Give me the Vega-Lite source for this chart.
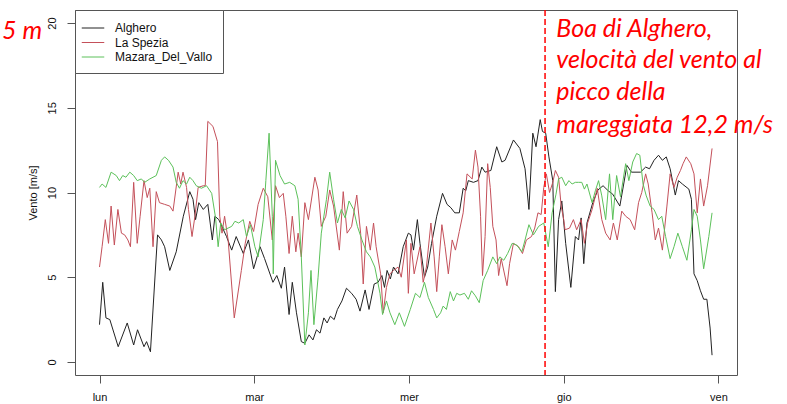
{
  "$schema": "https://vega.github.io/schema/vega-lite/v6.json",
  "width": 662,
  "height": 365,
  "autosize": {"type": "none"},
  "padding": {"left": 75, "top": 10, "right": 50, "bottom": 29},
  "background": "white",
  "config": {
    "view": {"stroke": "#555", "strokeWidth": 1},
    "font": "Liberation Sans",
    "axis": {"labelFont": "Liberation Sans", "titleFont": "Liberation Sans", "labelColor": "#111111", "titleColor": "#111111", "tickColor": "#555", "domain": false, "grid": false},
    "legend": {
      "orient": "top-left", "offset": 0, "padding": 10, "strokeColor": "#555", "fillColor": "white",
      "labelFont": "Liberation Sans", "labelFontSize": 12, "labelColor": "#111111",
      "symbolType": "M-1.5,0H1.5", "symbolSize": 225, "symbolStrokeWidth": 1,
      "rowPadding": 0.5, "labelOffset": 14, "title": null, "cornerRadius": 0
    }
  },
  "datasets": {
    "series": [
      {"station": "Alghero", "hour": 0, "wind": 2.2},
      {"station": "Alghero", "hour": 0.5, "wind": 4.7},
      {"station": "Alghero", "hour": 1.0, "wind": 2.6},
      {"station": "Alghero", "hour": 1.6, "wind": 2.5},
      {"station": "Alghero", "hour": 2.9, "wind": 0.9},
      {"station": "Alghero", "hour": 4.3, "wind": 2.3},
      {"station": "Alghero", "hour": 5.3, "wind": 1.0},
      {"station": "Alghero", "hour": 5.9, "wind": 1.9},
      {"station": "Alghero", "hour": 6.9, "wind": 0.9},
      {"station": "Alghero", "hour": 7.3, "wind": 1.2},
      {"station": "Alghero", "hour": 7.9, "wind": 0.6},
      {"station": "Alghero", "hour": 9.0, "wind": 7.5},
      {"station": "Alghero", "hour": 9.6, "wind": 7.2},
      {"station": "Alghero", "hour": 10.1, "wind": 6.8},
      {"station": "Alghero", "hour": 10.9, "wind": 5.4},
      {"station": "Alghero", "hour": 11.9, "wind": 6.5},
      {"station": "Alghero", "hour": 13.0, "wind": 8.6},
      {"station": "Alghero", "hour": 14.0, "wind": 10.05},
      {"station": "Alghero", "hour": 14.5, "wind": 9.6},
      {"station": "Alghero", "hour": 14.9, "wind": 8.4},
      {"station": "Alghero", "hour": 15.4, "wind": 9.4},
      {"station": "Alghero", "hour": 16.1, "wind": 9.0},
      {"station": "Alghero", "hour": 16.8, "wind": 9.3},
      {"station": "Alghero", "hour": 17.5, "wind": 7.2},
      {"station": "Alghero", "hour": 17.9, "wind": 8.6},
      {"station": "Alghero", "hour": 18.5, "wind": 8.4},
      {"station": "Alghero", "hour": 19.7, "wind": 7.4},
      {"station": "Alghero", "hour": 20.5, "wind": 6.6},
      {"station": "Alghero", "hour": 21.2, "wind": 7.4},
      {"station": "Alghero", "hour": 22.3, "wind": 6.4},
      {"station": "Alghero", "hour": 23.1, "wind": 7.2},
      {"station": "Alghero", "hour": 23.9, "wind": 5.5},
      {"station": "Alghero", "hour": 24.9, "wind": 6.8},
      {"station": "Alghero", "hour": 25.6, "wind": 6.1},
      {"station": "Alghero", "hour": 26.9, "wind": 4.7},
      {"station": "Alghero", "hour": 27.5, "wind": 5.1},
      {"station": "Alghero", "hour": 28.2, "wind": 4.35},
      {"station": "Alghero", "hour": 28.7, "wind": 5.6},
      {"station": "Alghero", "hour": 29.4, "wind": 2.8},
      {"station": "Alghero", "hour": 29.9, "wind": 4.7},
      {"station": "Alghero", "hour": 30.55, "wind": 2.9},
      {"station": "Alghero", "hour": 31.3, "wind": 1.2},
      {"station": "Alghero", "hour": 31.85, "wind": 1.1},
      {"station": "Alghero", "hour": 32.5, "wind": 1.6},
      {"station": "Alghero", "hour": 33.1, "wind": 1.3},
      {"station": "Alghero", "hour": 33.65, "wind": 1.9},
      {"station": "Alghero", "hour": 34.2, "wind": 1.7},
      {"station": "Alghero", "hour": 34.8, "wind": 2.6},
      {"station": "Alghero", "hour": 35.3, "wind": 2.3},
      {"station": "Alghero", "hour": 35.8, "wind": 2.7},
      {"station": "Alghero", "hour": 36.4, "wind": 2.5},
      {"station": "Alghero", "hour": 36.9, "wind": 3.1},
      {"station": "Alghero", "hour": 37.6, "wind": 3.6},
      {"station": "Alghero", "hour": 38.3, "wind": 4.35},
      {"station": "Alghero", "hour": 39.1, "wind": 4.05},
      {"station": "Alghero", "hour": 39.8, "wind": 3.7},
      {"station": "Alghero", "hour": 40.4, "wind": 3.0},
      {"station": "Alghero", "hour": 41.2, "wind": 4.25},
      {"station": "Alghero", "hour": 41.8, "wind": 3.1},
      {"station": "Alghero", "hour": 42.6, "wind": 4.6},
      {"station": "Alghero", "hour": 43.2, "wind": 4.7},
      {"station": "Alghero", "hour": 43.8, "wind": 5.1},
      {"station": "Alghero", "hour": 44.2, "wind": 4.4},
      {"station": "Alghero", "hour": 44.6, "wind": 5.4},
      {"station": "Alghero", "hour": 45.1, "wind": 4.9},
      {"station": "Alghero", "hour": 45.6, "wind": 5.6},
      {"station": "Alghero", "hour": 46.3, "wind": 5.2},
      {"station": "Alghero", "hour": 47.1, "wind": 6.8},
      {"station": "Alghero", "hour": 47.9, "wind": 7.6},
      {"station": "Alghero", "hour": 48.3, "wind": 7.5},
      {"station": "Alghero", "hour": 48.7, "wind": 6.6},
      {"station": "Alghero", "hour": 49.3, "wind": 8.4},
      {"station": "Alghero", "hour": 49.7, "wind": 7.0},
      {"station": "Alghero", "hour": 50.4, "wind": 5.0},
      {"station": "Alghero", "hour": 50.9, "wind": 5.6},
      {"station": "Alghero", "hour": 51.5, "wind": 7.0},
      {"station": "Alghero", "hour": 52.3, "wind": 8.6},
      {"station": "Alghero", "hour": 53.2, "wind": 9.95},
      {"station": "Alghero", "hour": 53.9, "wind": 9.3},
      {"station": "Alghero", "hour": 54.5, "wind": 9.1},
      {"station": "Alghero", "hour": 55.1, "wind": 8.8},
      {"station": "Alghero", "hour": 55.8, "wind": 8.8},
      {"station": "Alghero", "hour": 56.4, "wind": 10.25},
      {"station": "Alghero", "hour": 56.8, "wind": 10.1},
      {"station": "Alghero", "hour": 57.2, "wind": 10.7},
      {"station": "Alghero", "hour": 58.0, "wind": 10.6},
      {"station": "Alghero", "hour": 58.7, "wind": 10.7},
      {"station": "Alghero", "hour": 59.3, "wind": 11.5},
      {"station": "Alghero", "hour": 59.8, "wind": 11.2},
      {"station": "Alghero", "hour": 60.7, "wind": 11.3},
      {"station": "Alghero", "hour": 61.6, "wind": 12.7},
      {"station": "Alghero", "hour": 62.4, "wind": 11.8},
      {"station": "Alghero", "hour": 62.9, "wind": 11.9},
      {"station": "Alghero", "hour": 64.2, "wind": 13.1},
      {"station": "Alghero", "hour": 65.2, "wind": 12.6},
      {"station": "Alghero", "hour": 66.0, "wind": 11.4},
      {"station": "Alghero", "hour": 66.6, "wind": 9.0},
      {"station": "Alghero", "hour": 67.2, "wind": 13.5},
      {"station": "Alghero", "hour": 67.7, "wind": 12.7},
      {"station": "Alghero", "hour": 68.35, "wind": 14.3},
      {"station": "Alghero", "hour": 68.7, "wind": 13.6},
      {"station": "Alghero", "hour": 69.2, "wind": 13.5},
      {"station": "Alghero", "hour": 69.7, "wind": 12.1},
      {"station": "Alghero", "hour": 70.3, "wind": 10.7},
      {"station": "Alghero", "hour": 70.7, "wind": 4.15},
      {"station": "Alghero", "hour": 71.2, "wind": 8.4},
      {"station": "Alghero", "hour": 71.7, "wind": 9.5},
      {"station": "Alghero", "hour": 72.3, "wind": 7.0},
      {"station": "Alghero", "hour": 73.1, "wind": 4.4},
      {"station": "Alghero", "hour": 73.8, "wind": 7.4},
      {"station": "Alghero", "hour": 74.3, "wind": 7.2},
      {"station": "Alghero", "hour": 74.7, "wind": 8.5},
      {"station": "Alghero", "hour": 75.1, "wind": 5.8},
      {"station": "Alghero", "hour": 75.6, "wind": 8.2},
      {"station": "Alghero", "hour": 76.5, "wind": 9.4},
      {"station": "Alghero", "hour": 77.3, "wind": 10.15},
      {"station": "Alghero", "hour": 78.1, "wind": 10.4},
      {"station": "Alghero", "hour": 78.9, "wind": 10.1},
      {"station": "Alghero", "hour": 79.6, "wind": 9.9},
      {"station": "Alghero", "hour": 80.7, "wind": 9.2},
      {"station": "Alghero", "hour": 81.3, "wind": 10.5},
      {"station": "Alghero", "hour": 81.8, "wind": 11.6},
      {"station": "Alghero", "hour": 82.5, "wind": 11.2},
      {"station": "Alghero", "hour": 83.9, "wind": 11.2},
      {"station": "Alghero", "hour": 84.7, "wind": 11.5},
      {"station": "Alghero", "hour": 85.3, "wind": 11.4},
      {"station": "Alghero", "hour": 86.0, "wind": 11.9},
      {"station": "Alghero", "hour": 86.7, "wind": 12.2},
      {"station": "Alghero", "hour": 87.3, "wind": 11.9},
      {"station": "Alghero", "hour": 87.9, "wind": 12.1},
      {"station": "Alghero", "hour": 88.5, "wind": 11.4},
      {"station": "Alghero", "hour": 89.3, "wind": 9.85},
      {"station": "Alghero", "hour": 89.8, "wind": 10.7},
      {"station": "Alghero", "hour": 90.4, "wind": 10.5},
      {"station": "Alghero", "hour": 91.4, "wind": 10.2},
      {"station": "Alghero", "hour": 91.8, "wind": 9.6},
      {"station": "Alghero", "hour": 92.2, "wind": 5.2},
      {"station": "Alghero", "hour": 92.7, "wind": 4.8},
      {"station": "Alghero", "hour": 93.2, "wind": 4.2},
      {"station": "Alghero", "hour": 93.7, "wind": 3.7},
      {"station": "Alghero", "hour": 94.2, "wind": 3.7},
      {"station": "Alghero", "hour": 94.7, "wind": 2.0},
      {"station": "Alghero", "hour": 95.0, "wind": 0.4},

      {"station": "La Spezia", "hour": 0, "wind": 5.6},
      {"station": "La Spezia", "hour": 0.4, "wind": 6.8},
      {"station": "La Spezia", "hour": 0.9, "wind": 8.4},
      {"station": "La Spezia", "hour": 1.4, "wind": 7.0},
      {"station": "La Spezia", "hour": 1.8, "wind": 9.2},
      {"station": "La Spezia", "hour": 2.3, "wind": 6.9},
      {"station": "La Spezia", "hour": 2.85, "wind": 9.0},
      {"station": "La Spezia", "hour": 3.4, "wind": 7.6},
      {"station": "La Spezia", "hour": 3.9, "wind": 7.5},
      {"station": "La Spezia", "hour": 4.4, "wind": 7.2},
      {"station": "La Spezia", "hour": 4.8, "wind": 6.8},
      {"station": "La Spezia", "hour": 5.3, "wind": 10.6},
      {"station": "La Spezia", "hour": 5.85, "wind": 7.0},
      {"station": "La Spezia", "hour": 6.3, "wind": 8.6},
      {"station": "La Spezia", "hour": 6.9, "wind": 10.7},
      {"station": "La Spezia", "hour": 7.4, "wind": 9.7},
      {"station": "La Spezia", "hour": 7.8, "wind": 10.25},
      {"station": "La Spezia", "hour": 8.3, "wind": 6.8},
      {"station": "La Spezia", "hour": 8.8, "wind": 10.05},
      {"station": "La Spezia", "hour": 9.3, "wind": 9.4},
      {"station": "La Spezia", "hour": 10.1, "wind": 9.3},
      {"station": "La Spezia", "hour": 10.9, "wind": 9.2},
      {"station": "La Spezia", "hour": 11.4, "wind": 8.9},
      {"station": "La Spezia", "hour": 12.2, "wind": 11.2},
      {"station": "La Spezia", "hour": 12.6, "wind": 10.5},
      {"station": "La Spezia", "hour": 12.95, "wind": 11.2},
      {"station": "La Spezia", "hour": 13.5, "wind": 10.3},
      {"station": "La Spezia", "hour": 13.8, "wind": 9.0},
      {"station": "La Spezia", "hour": 14.35, "wind": 7.4},
      {"station": "La Spezia", "hour": 14.8, "wind": 8.6},
      {"station": "La Spezia", "hour": 15.3, "wind": 10.3},
      {"station": "La Spezia", "hour": 16.1, "wind": 10.4},
      {"station": "La Spezia", "hour": 16.4, "wind": 10.4},
      {"station": "La Spezia", "hour": 16.8, "wind": 14.2},
      {"station": "La Spezia", "hour": 17.6, "wind": 13.9},
      {"station": "La Spezia", "hour": 18.3, "wind": 13.0},
      {"station": "La Spezia", "hour": 18.65, "wind": 8.6},
      {"station": "La Spezia", "hour": 19.0, "wind": 7.6},
      {"station": "La Spezia", "hour": 19.4, "wind": 8.6},
      {"station": "La Spezia", "hour": 19.95, "wind": 7.2},
      {"station": "La Spezia", "hour": 20.9, "wind": 2.6},
      {"station": "La Spezia", "hour": 22.0, "wind": 5.4},
      {"station": "La Spezia", "hour": 22.6, "wind": 7.0},
      {"station": "La Spezia", "hour": 23.3, "wind": 8.3},
      {"station": "La Spezia", "hour": 23.9, "wind": 7.7},
      {"station": "La Spezia", "hour": 24.6, "wind": 9.3},
      {"station": "La Spezia", "hour": 25.4, "wind": 10.25},
      {"station": "La Spezia", "hour": 26.1, "wind": 9.75},
      {"station": "La Spezia", "hour": 26.8, "wind": 7.2},
      {"station": "La Spezia", "hour": 27.3, "wind": 10.4},
      {"station": "La Spezia", "hour": 27.9, "wind": 9.7},
      {"station": "La Spezia", "hour": 28.5, "wind": 9.95},
      {"station": "La Spezia", "hour": 28.9, "wind": 8.6},
      {"station": "La Spezia", "hour": 29.4, "wind": 6.4},
      {"station": "La Spezia", "hour": 29.9, "wind": 8.6},
      {"station": "La Spezia", "hour": 30.45, "wind": 6.5},
      {"station": "La Spezia", "hour": 30.8, "wind": 7.6},
      {"station": "La Spezia", "hour": 31.3, "wind": 6.2},
      {"station": "La Spezia", "hour": 31.85, "wind": 9.4},
      {"station": "La Spezia", "hour": 32.4, "wind": 8.4},
      {"station": "La Spezia", "hour": 33.4, "wind": 10.9},
      {"station": "La Spezia", "hour": 33.9, "wind": 10.15},
      {"station": "La Spezia", "hour": 34.4, "wind": 8.0},
      {"station": "La Spezia", "hour": 35.1, "wind": 8.6},
      {"station": "La Spezia", "hour": 35.7, "wind": 10.15},
      {"station": "La Spezia", "hour": 36.3, "wind": 9.2},
      {"station": "La Spezia", "hour": 37.2, "wind": 6.6},
      {"station": "La Spezia", "hour": 37.8, "wind": 10.05},
      {"station": "La Spezia", "hour": 38.4, "wind": 7.6},
      {"station": "La Spezia", "hour": 39.1, "wind": 8.0},
      {"station": "La Spezia", "hour": 39.9, "wind": 9.85},
      {"station": "La Spezia", "hour": 40.5, "wind": 7.6},
      {"station": "La Spezia", "hour": 40.9, "wind": 4.6},
      {"station": "La Spezia", "hour": 41.4, "wind": 8.0},
      {"station": "La Spezia", "hour": 42.0, "wind": 6.6},
      {"station": "La Spezia", "hour": 42.5, "wind": 8.2},
      {"station": "La Spezia", "hour": 42.9, "wind": 6.8},
      {"station": "La Spezia", "hour": 43.6, "wind": 5.2},
      {"station": "La Spezia", "hour": 44.0, "wind": 2.9},
      {"station": "La Spezia", "hour": 44.5, "wind": 4.4},
      {"station": "La Spezia", "hour": 45.05, "wind": 5.2},
      {"station": "La Spezia", "hour": 45.6, "wind": 5.4},
      {"station": "La Spezia", "hour": 46.3, "wind": 5.6},
      {"station": "La Spezia", "hour": 46.8, "wind": 5.0},
      {"station": "La Spezia", "hour": 47.6, "wind": 7.2},
      {"station": "La Spezia", "hour": 47.9, "wind": 4.05},
      {"station": "La Spezia", "hour": 48.3, "wind": 7.0},
      {"station": "La Spezia", "hour": 48.8, "wind": 5.2},
      {"station": "La Spezia", "hour": 49.7, "wind": 6.8},
      {"station": "La Spezia", "hour": 50.2, "wind": 4.7},
      {"station": "La Spezia", "hour": 50.7, "wind": 5.6},
      {"station": "La Spezia", "hour": 51.4, "wind": 8.2},
      {"station": "La Spezia", "hour": 51.9, "wind": 6.2},
      {"station": "La Spezia", "hour": 52.3, "wind": 4.15},
      {"station": "La Spezia", "hour": 52.7, "wind": 6.2},
      {"station": "La Spezia", "hour": 53.1, "wind": 8.1},
      {"station": "La Spezia", "hour": 53.6, "wind": 6.8},
      {"station": "La Spezia", "hour": 54.1, "wind": 5.2},
      {"station": "La Spezia", "hour": 54.7, "wind": 7.2},
      {"station": "La Spezia", "hour": 55.2, "wind": 6.6},
      {"station": "La Spezia", "hour": 55.8, "wind": 7.7},
      {"station": "La Spezia", "hour": 56.4, "wind": 8.8},
      {"station": "La Spezia", "hour": 57.0, "wind": 11.1},
      {"station": "La Spezia", "hour": 57.8, "wind": 10.8},
      {"station": "La Spezia", "hour": 58.3, "wind": 12.5},
      {"station": "La Spezia", "hour": 58.7, "wind": 11.5},
      {"station": "La Spezia", "hour": 59.1, "wind": 8.6},
      {"station": "La Spezia", "hour": 59.4, "wind": 5.1},
      {"station": "La Spezia", "hour": 59.8, "wind": 7.4},
      {"station": "La Spezia", "hour": 60.2, "wind": 11.7},
      {"station": "La Spezia", "hour": 60.6, "wind": 10.3},
      {"station": "La Spezia", "hour": 61.0, "wind": 8.0},
      {"station": "La Spezia", "hour": 61.5, "wind": 7.2},
      {"station": "La Spezia", "hour": 61.9, "wind": 5.1},
      {"station": "La Spezia", "hour": 62.3, "wind": 6.1},
      {"station": "La Spezia", "hour": 63.2, "wind": 4.5},
      {"station": "La Spezia", "hour": 63.6, "wind": 5.8},
      {"station": "La Spezia", "hour": 64.2, "wind": 7.0},
      {"station": "La Spezia", "hour": 65.0, "wind": 6.8},
      {"station": "La Spezia", "hour": 65.6, "wind": 6.4},
      {"station": "La Spezia", "hour": 66.2, "wind": 7.2},
      {"station": "La Spezia", "hour": 67.0, "wind": 7.4},
      {"station": "La Spezia", "hour": 67.5, "wind": 7.9},
      {"station": "La Spezia", "hour": 68.0, "wind": 8.8},
      {"station": "La Spezia", "hour": 68.5, "wind": 8.7},
      {"station": "La Spezia", "hour": 68.9, "wind": 10.3},
      {"station": "La Spezia", "hour": 69.3, "wind": 11.1},
      {"station": "La Spezia", "hour": 69.8, "wind": 10.0},
      {"station": "La Spezia", "hour": 70.3, "wind": 10.6},
      {"station": "La Spezia", "hour": 70.7, "wind": 11.3},
      {"station": "La Spezia", "hour": 71.2, "wind": 10.9},
      {"station": "La Spezia", "hour": 71.6, "wind": 9.2},
      {"station": "La Spezia", "hour": 72.0, "wind": 8.4},
      {"station": "La Spezia", "hour": 72.2, "wind": 7.8},
      {"station": "La Spezia", "hour": 72.9, "wind": 7.9},
      {"station": "La Spezia", "hour": 73.5, "wind": 8.4},
      {"station": "La Spezia", "hour": 74.0, "wind": 7.8},
      {"station": "La Spezia", "hour": 74.7, "wind": 8.4},
      {"station": "La Spezia", "hour": 75.2, "wind": 7.0},
      {"station": "La Spezia", "hour": 75.7, "wind": 8.2},
      {"station": "La Spezia", "hour": 76.4, "wind": 9.0},
      {"station": "La Spezia", "hour": 77.2, "wind": 10.25},
      {"station": "La Spezia", "hour": 77.9, "wind": 8.4},
      {"station": "La Spezia", "hour": 78.5, "wind": 7.6},
      {"station": "La Spezia", "hour": 79.2, "wind": 7.2},
      {"station": "La Spezia", "hour": 79.7, "wind": 8.2},
      {"station": "La Spezia", "hour": 80.3, "wind": 7.2},
      {"station": "La Spezia", "hour": 81.0, "wind": 8.9},
      {"station": "La Spezia", "hour": 81.6, "wind": 8.6},
      {"station": "La Spezia", "hour": 82.3, "wind": 8.4},
      {"station": "La Spezia", "hour": 83.0, "wind": 7.8},
      {"station": "La Spezia", "hour": 83.6, "wind": 9.4},
      {"station": "La Spezia", "hour": 84.1, "wind": 10.0},
      {"station": "La Spezia", "hour": 84.7, "wind": 11.1},
      {"station": "La Spezia", "hour": 85.1, "wind": 10.5},
      {"station": "La Spezia", "hour": 85.7, "wind": 8.8},
      {"station": "La Spezia", "hour": 86.2, "wind": 7.2},
      {"station": "La Spezia", "hour": 86.7, "wind": 7.9},
      {"station": "La Spezia", "hour": 87.3, "wind": 6.6},
      {"station": "La Spezia", "hour": 88.0, "wind": 9.2},
      {"station": "La Spezia", "hour": 88.5, "wind": 11.1},
      {"station": "La Spezia", "hour": 89.1, "wind": 10.3},
      {"station": "La Spezia", "hour": 89.6, "wind": 10.9},
      {"station": "La Spezia", "hour": 90.1, "wind": 11.3},
      {"station": "La Spezia", "hour": 90.5, "wind": 11.7},
      {"station": "La Spezia", "hour": 91.0, "wind": 12.1},
      {"station": "La Spezia", "hour": 91.7, "wind": 11.7},
      {"station": "La Spezia", "hour": 92.2, "wind": 11.1},
      {"station": "La Spezia", "hour": 92.7, "wind": 8.8},
      {"station": "La Spezia", "hour": 93.2, "wind": 10.8},
      {"station": "La Spezia", "hour": 93.7, "wind": 9.2},
      {"station": "La Spezia", "hour": 94.3, "wind": 10.4},
      {"station": "La Spezia", "hour": 95.0, "wind": 12.6},

      {"station": "Mazara_Del_Vallo", "hour": 0, "wind": 10.3},
      {"station": "Mazara_Del_Vallo", "hour": 0.4, "wind": 10.5},
      {"station": "Mazara_Del_Vallo", "hour": 1.0, "wind": 10.3},
      {"station": "Mazara_Del_Vallo", "hour": 1.8, "wind": 11.2},
      {"station": "Mazara_Del_Vallo", "hour": 2.6, "wind": 11.0},
      {"station": "Mazara_Del_Vallo", "hour": 3.1, "wind": 10.7},
      {"station": "Mazara_Del_Vallo", "hour": 3.6, "wind": 11.0},
      {"station": "Mazara_Del_Vallo", "hour": 4.1, "wind": 10.9},
      {"station": "Mazara_Del_Vallo", "hour": 4.7, "wind": 11.2},
      {"station": "Mazara_Del_Vallo", "hour": 5.3, "wind": 11.0},
      {"station": "Mazara_Del_Vallo", "hour": 5.85, "wind": 10.7},
      {"station": "Mazara_Del_Vallo", "hour": 6.5, "wind": 10.8},
      {"station": "Mazara_Del_Vallo", "hour": 7.0, "wind": 10.6},
      {"station": "Mazara_Del_Vallo", "hour": 7.8, "wind": 10.8},
      {"station": "Mazara_Del_Vallo", "hour": 8.8, "wind": 11.0},
      {"station": "Mazara_Del_Vallo", "hour": 9.6, "wind": 11.9},
      {"station": "Mazara_Del_Vallo", "hour": 10.1, "wind": 12.1},
      {"station": "Mazara_Del_Vallo", "hour": 10.7, "wind": 11.9},
      {"station": "Mazara_Del_Vallo", "hour": 11.4, "wind": 11.5},
      {"station": "Mazara_Del_Vallo", "hour": 11.9, "wind": 10.6},
      {"station": "Mazara_Del_Vallo", "hour": 12.4, "wind": 10.25},
      {"station": "Mazara_Del_Vallo", "hour": 12.95, "wind": 10.7},
      {"station": "Mazara_Del_Vallo", "hour": 13.5, "wind": 10.5},
      {"station": "Mazara_Del_Vallo", "hour": 14.0, "wind": 10.9},
      {"station": "Mazara_Del_Vallo", "hour": 14.5, "wind": 10.7},
      {"station": "Mazara_Del_Vallo", "hour": 15.0, "wind": 10.4},
      {"station": "Mazara_Del_Vallo", "hour": 15.8, "wind": 10.25},
      {"station": "Mazara_Del_Vallo", "hour": 16.6, "wind": 10.4},
      {"station": "Mazara_Del_Vallo", "hour": 17.4, "wind": 9.95},
      {"station": "Mazara_Del_Vallo", "hour": 18.0, "wind": 8.5},
      {"station": "Mazara_Del_Vallo", "hour": 18.4, "wind": 6.8},
      {"station": "Mazara_Del_Vallo", "hour": 18.8, "wind": 8.2},
      {"station": "Mazara_Del_Vallo", "hour": 19.4, "wind": 7.8},
      {"station": "Mazara_Del_Vallo", "hour": 20.5, "wind": 8.0},
      {"station": "Mazara_Del_Vallo", "hour": 21.0, "wind": 8.3},
      {"station": "Mazara_Del_Vallo", "hour": 21.6, "wind": 8.2},
      {"station": "Mazara_Del_Vallo", "hour": 22.3, "wind": 8.4},
      {"station": "Mazara_Del_Vallo", "hour": 22.8, "wind": 7.4},
      {"station": "Mazara_Del_Vallo", "hour": 23.4, "wind": 8.1},
      {"station": "Mazara_Del_Vallo", "hour": 24.1, "wind": 6.8},
      {"station": "Mazara_Del_Vallo", "hour": 24.6, "wind": 6.2},
      {"station": "Mazara_Del_Vallo", "hour": 25.4, "wind": 8.4},
      {"station": "Mazara_Del_Vallo", "hour": 25.8, "wind": 10.7},
      {"station": "Mazara_Del_Vallo", "hour": 26.3, "wind": 13.5},
      {"station": "Mazara_Del_Vallo", "hour": 26.8, "wind": 8.6},
      {"station": "Mazara_Del_Vallo", "hour": 26.95, "wind": 5.2},
      {"station": "Mazara_Del_Vallo", "hour": 27.3, "wind": 11.9},
      {"station": "Mazara_Del_Vallo", "hour": 28.0, "wind": 11.0},
      {"station": "Mazara_Del_Vallo", "hour": 28.7, "wind": 10.5},
      {"station": "Mazara_Del_Vallo", "hour": 29.5, "wind": 10.6},
      {"station": "Mazara_Del_Vallo", "hour": 30.3, "wind": 10.4},
      {"station": "Mazara_Del_Vallo", "hour": 30.8, "wind": 9.6},
      {"station": "Mazara_Del_Vallo", "hour": 31.3, "wind": 6.2},
      {"station": "Mazara_Del_Vallo", "hour": 31.85, "wind": 1.0},
      {"station": "Mazara_Del_Vallo", "hour": 32.4, "wind": 2.9},
      {"station": "Mazara_Del_Vallo", "hour": 32.8, "wind": 5.4},
      {"station": "Mazara_Del_Vallo", "hour": 33.25, "wind": 2.2},
      {"station": "Mazara_Del_Vallo", "hour": 33.9, "wind": 5.0},
      {"station": "Mazara_Del_Vallo", "hour": 34.4, "wind": 7.6},
      {"station": "Mazara_Del_Vallo", "hour": 35.2, "wind": 9.6},
      {"station": "Mazara_Del_Vallo", "hour": 35.7, "wind": 11.2},
      {"station": "Mazara_Del_Vallo", "hour": 36.3, "wind": 9.6},
      {"station": "Mazara_Del_Vallo", "hour": 36.9, "wind": 8.2},
      {"station": "Mazara_Del_Vallo", "hour": 37.5, "wind": 9.0},
      {"station": "Mazara_Del_Vallo", "hour": 38.1, "wind": 8.5},
      {"station": "Mazara_Del_Vallo", "hour": 38.7, "wind": 9.5},
      {"station": "Mazara_Del_Vallo", "hour": 39.4, "wind": 9.0},
      {"station": "Mazara_Del_Vallo", "hour": 40.0, "wind": 8.0},
      {"station": "Mazara_Del_Vallo", "hour": 40.7, "wind": 7.2},
      {"station": "Mazara_Del_Vallo", "hour": 41.4, "wind": 6.5},
      {"station": "Mazara_Del_Vallo", "hour": 42.0, "wind": 6.2},
      {"station": "Mazara_Del_Vallo", "hour": 42.7, "wind": 5.6},
      {"station": "Mazara_Del_Vallo", "hour": 43.5, "wind": 4.05},
      {"station": "Mazara_Del_Vallo", "hour": 43.9, "wind": 2.8},
      {"station": "Mazara_Del_Vallo", "hour": 44.5, "wind": 3.6},
      {"station": "Mazara_Del_Vallo", "hour": 45.05, "wind": 2.9},
      {"station": "Mazara_Del_Vallo", "hour": 45.8, "wind": 2.2},
      {"station": "Mazara_Del_Vallo", "hour": 46.5, "wind": 2.9},
      {"station": "Mazara_Del_Vallo", "hour": 47.3, "wind": 2.1},
      {"station": "Mazara_Del_Vallo", "hour": 48.2, "wind": 3.1},
      {"station": "Mazara_Del_Vallo", "hour": 49.0, "wind": 4.05},
      {"station": "Mazara_Del_Vallo", "hour": 49.7, "wind": 3.8},
      {"station": "Mazara_Del_Vallo", "hour": 50.4, "wind": 4.7},
      {"station": "Mazara_Del_Vallo", "hour": 51.0, "wind": 3.8},
      {"station": "Mazara_Del_Vallo", "hour": 51.8, "wind": 3.1},
      {"station": "Mazara_Del_Vallo", "hour": 52.3, "wind": 2.6},
      {"station": "Mazara_Del_Vallo", "hour": 52.9, "wind": 2.9},
      {"station": "Mazara_Del_Vallo", "hour": 53.3, "wind": 3.3},
      {"station": "Mazara_Del_Vallo", "hour": 53.8, "wind": 3.1},
      {"station": "Mazara_Del_Vallo", "hour": 54.4, "wind": 4.15},
      {"station": "Mazara_Del_Vallo", "hour": 54.9, "wind": 3.6},
      {"station": "Mazara_Del_Vallo", "hour": 55.4, "wind": 4.05},
      {"station": "Mazara_Del_Vallo", "hour": 55.9, "wind": 3.95},
      {"station": "Mazara_Del_Vallo", "hour": 56.6, "wind": 4.05},
      {"station": "Mazara_Del_Vallo", "hour": 57.2, "wind": 3.7},
      {"station": "Mazara_Del_Vallo", "hour": 57.7, "wind": 4.2},
      {"station": "Mazara_Del_Vallo", "hour": 58.3, "wind": 3.9},
      {"station": "Mazara_Del_Vallo", "hour": 58.9, "wind": 3.5},
      {"station": "Mazara_Del_Vallo", "hour": 59.5, "wind": 4.8},
      {"station": "Mazara_Del_Vallo", "hour": 60.2, "wind": 5.4},
      {"station": "Mazara_Del_Vallo", "hour": 61.0, "wind": 6.2},
      {"station": "Mazara_Del_Vallo", "hour": 61.6, "wind": 5.8},
      {"station": "Mazara_Del_Vallo", "hour": 62.1, "wind": 6.2},
      {"station": "Mazara_Del_Vallo", "hour": 62.7, "wind": 6.0},
      {"station": "Mazara_Del_Vallo", "hour": 63.3, "wind": 6.4},
      {"station": "Mazara_Del_Vallo", "hour": 64.0, "wind": 7.0},
      {"station": "Mazara_Del_Vallo", "hour": 64.7, "wind": 6.9},
      {"station": "Mazara_Del_Vallo", "hour": 65.5, "wind": 6.5},
      {"station": "Mazara_Del_Vallo", "hour": 66.0, "wind": 7.2},
      {"station": "Mazara_Del_Vallo", "hour": 66.6, "wind": 8.1},
      {"station": "Mazara_Del_Vallo", "hour": 67.3, "wind": 7.5},
      {"station": "Mazara_Del_Vallo", "hour": 68.1, "wind": 8.0},
      {"station": "Mazara_Del_Vallo", "hour": 68.9, "wind": 8.2},
      {"station": "Mazara_Del_Vallo", "hour": 69.6, "wind": 6.8},
      {"station": "Mazara_Del_Vallo", "hour": 70.2, "wind": 8.8},
      {"station": "Mazara_Del_Vallo", "hour": 70.8, "wind": 9.9},
      {"station": "Mazara_Del_Vallo", "hour": 71.2, "wind": 10.8},
      {"station": "Mazara_Del_Vallo", "hour": 71.7, "wind": 10.9},
      {"station": "Mazara_Del_Vallo", "hour": 72.3, "wind": 10.4},
      {"station": "Mazara_Del_Vallo", "hour": 72.8, "wind": 10.7},
      {"station": "Mazara_Del_Vallo", "hour": 73.3, "wind": 10.5},
      {"station": "Mazara_Del_Vallo", "hour": 73.8, "wind": 10.6},
      {"station": "Mazara_Del_Vallo", "hour": 74.3, "wind": 10.6},
      {"station": "Mazara_Del_Vallo", "hour": 74.8, "wind": 10.6},
      {"station": "Mazara_Del_Vallo", "hour": 75.2, "wind": 10.2},
      {"station": "Mazara_Del_Vallo", "hour": 75.6, "wind": 10.5},
      {"station": "Mazara_Del_Vallo", "hour": 76.4, "wind": 9.4},
      {"station": "Mazara_Del_Vallo", "hour": 76.9, "wind": 10.1},
      {"station": "Mazara_Del_Vallo", "hour": 77.4, "wind": 10.7},
      {"station": "Mazara_Del_Vallo", "hour": 77.9, "wind": 9.8},
      {"station": "Mazara_Del_Vallo", "hour": 78.5, "wind": 8.4},
      {"station": "Mazara_Del_Vallo", "hour": 79.1, "wind": 11.1},
      {"station": "Mazara_Del_Vallo", "hour": 79.6, "wind": 8.4},
      {"station": "Mazara_Del_Vallo", "hour": 80.2, "wind": 11.0},
      {"station": "Mazara_Del_Vallo", "hour": 80.8, "wind": 9.75},
      {"station": "Mazara_Del_Vallo", "hour": 81.6, "wind": 11.7},
      {"station": "Mazara_Del_Vallo", "hour": 82.1, "wind": 10.7},
      {"station": "Mazara_Del_Vallo", "hour": 82.7, "wind": 11.8},
      {"station": "Mazara_Del_Vallo", "hour": 83.3, "wind": 12.3},
      {"station": "Mazara_Del_Vallo", "hour": 83.8, "wind": 12.2},
      {"station": "Mazara_Del_Vallo", "hour": 84.3, "wind": 10.5},
      {"station": "Mazara_Del_Vallo", "hour": 84.8, "wind": 9.8},
      {"station": "Mazara_Del_Vallo", "hour": 85.4, "wind": 9.2},
      {"station": "Mazara_Del_Vallo", "hour": 86.0, "wind": 9.0},
      {"station": "Mazara_Del_Vallo", "hour": 86.7, "wind": 8.4},
      {"station": "Mazara_Del_Vallo", "hour": 87.2, "wind": 8.6},
      {"station": "Mazara_Del_Vallo", "hour": 87.8, "wind": 7.4},
      {"station": "Mazara_Del_Vallo", "hour": 88.5, "wind": 6.1},
      {"station": "Mazara_Del_Vallo", "hour": 89.1, "wind": 6.8},
      {"station": "Mazara_Del_Vallo", "hour": 89.7, "wind": 7.6},
      {"station": "Mazara_Del_Vallo", "hour": 90.4, "wind": 6.8},
      {"station": "Mazara_Del_Vallo", "hour": 91.1, "wind": 6.0},
      {"station": "Mazara_Del_Vallo", "hour": 91.8, "wind": 7.8},
      {"station": "Mazara_Del_Vallo", "hour": 92.2, "wind": 9.0},
      {"station": "Mazara_Del_Vallo", "hour": 92.7, "wind": 8.6},
      {"station": "Mazara_Del_Vallo", "hour": 93.2, "wind": 7.2},
      {"station": "Mazara_Del_Vallo", "hour": 93.7, "wind": 5.5},
      {"station": "Mazara_Del_Vallo", "hour": 94.5, "wind": 7.4},
      {"station": "Mazara_Del_Vallo", "hour": 95.0, "wind": 8.8}
    ],
    "marker": [{"hour": 69.1}],
    "leftnote": [
      {"label": "5 m", "hour": -8.9, "wind": 19.06}
    ],
    "notes": [
      {"label": "Boa di Alghero,", "hour": 70.85, "wind": 19.19},
      {"label": "velocità del vento al", "hour": 70.85, "wind": 17.33},
      {"label": "picco della", "hour": 70.85, "wind": 15.46},
      {"label": "mareggiata 12,2 m/s", "hour": 70.85, "wind": 13.53}
    ]
  },
  "layer": [
    {
      "data": {"name": "series"},
      "mark": {"type": "line", "strokeWidth": 1, "clip": true},
      "encoding": {
        "x": {
          "field": "hour", "type": "quantitative",
          "scale": {"domain": [-3.8, 98.87], "nice": false, "zero": false},
          "axis": {"values": [0, 24, 48, 72, 96], "labelExpr": "['lun','mar','mer','gio','ven'][round(datum.value/24)]", "title": null, "tickSize": 8, "labelPadding": 8, "labelFontSize": 11, "labelBaseline": "top", "labelColor": "#111111"}
        },
        "y": {
          "field": "wind", "type": "quantitative",
          "scale": {"domain": [-0.77, 20.77], "nice": false, "zero": false},
          "axis": {"values": [0, 5, 10, 15, 20], "title": "Vento [m/s]", "titleFontSize": 11, "titleFontWeight": "normal", "titlePadding": 8, "tickSize": 8, "labelPadding": 10, "labelFontSize": 11, "labelAngle": 270, "labelAlign": "center", "labelBaseline": "bottom", "labelColor": "#111111", "titleColor": "#111111"}
        },
        "color": {
          "field": "station", "type": "nominal",
          "scale": {"domain": ["Alghero", "La Spezia", "Mazara_Del_Vallo"], "range": ["#222222", "#C4505A", "#5CC15A"]},
          "legend": {"title": null}
        },
        "order": {"field": "hour", "type": "quantitative"}
      }
    },
    {
      "data": {"name": "marker"},
      "mark": {"type": "rule", "color": "#FF0000", "strokeWidth": 1.5, "strokeDash": [6, 3]},
      "encoding": {
        "x": {"field": "hour", "type": "quantitative"}
      }
    },
    {
      "data": {"name": "notes"},
      "mark": {"type": "text", "color": "#FF0000", "font": "Lato", "fontSize": 25, "fontStyle": "italic", "align": "left", "baseline": "alphabetic", "clip": false},
      "encoding": {
        "x": {"field": "hour", "type": "quantitative"},
        "y": {"field": "wind", "type": "quantitative"},
        "text": {"field": "label"}
      }
    },
    {
      "data": {"name": "leftnote"},
      "mark": {"type": "text", "color": "#FF0000", "font": "Lato", "fontSize": 25, "fontStyle": "italic", "align": "right", "baseline": "alphabetic", "clip": false},
      "encoding": {
        "x": {"field": "hour", "type": "quantitative"},
        "y": {"field": "wind", "type": "quantitative"},
        "text": {"field": "label"}
      }
    }
  ]
}
